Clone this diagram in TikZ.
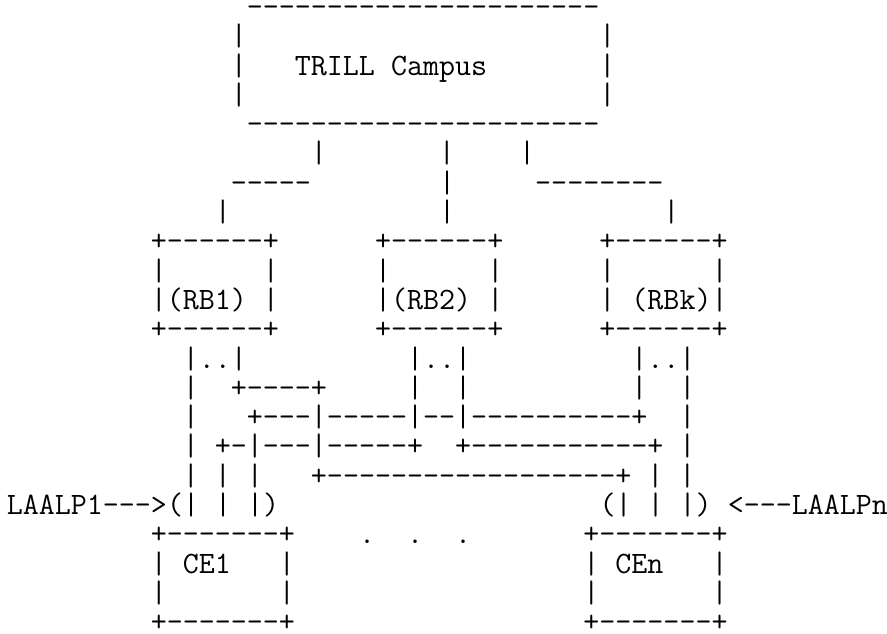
\documentclass[tikz,border=0pt]{standalone}
\usepackage{tikz}
\tikzset{asciirow/.style={anchor=base west, inner sep=0pt, outer sep=0pt, font=\ttfamily\fontsize{31.11pt}{29.3pt}\selectfont}}

\begin{document}
\begin{tikzpicture}
    \useasboundingbox (0,0) rectangle (887pt,-633pt);
    % one row of the plain text figure per node, column width 16pt, row pitch 29.3pt
    \foreach \n/\c/\txt in {
        1/15/{----------------------},
        2/14/{|~~~~~~~~~~~~~~~~~~~~~~|},
        3/14/{|~~~TRILL~Campus~~~~~~~|},
        4/14/{|~~~~~~~~~~~~~~~~~~~~~~|},
        5/15/{----------------------},
        6/19/{|~~~~~~~|~~~~|},
        7/14/{-----~~~~~~~~|~~~~~--------},
        8/13/{|~~~~~~~~~~~~~|~~~~~~~~~~~~~|},
        9/9/{+------+~~~~~~+------+~~~~~~+------+},
        10/9/{|~~~~~~|~~~~~~|~~~~~~|~~~~~~|~~~~~~|},
        11/9/{|(RB1)~|~~~~~~|(RB2)~|~~~~~~|~(RBk)|},
        12/9/{+------+~~~~~~+------+~~~~~~+------+},
        13/11/{|..|~~~~~~~~~~|..|~~~~~~~~~~|..|},
        14/11/{|~~+----+~~~~~|~~|~~~~~~~~~~|~~|},
        15/11/{|~~~+---|-----|--|----------+~~|},
        16/11/{|~+-|---|-----+~~+-----------+~|},
        17/11/{|~|~|~~~+------------------+~|~|},
        18/0/{LAALP1--->(|~|~|)~~~~~~~~~~~~~~~~~~~~(|~|~|)~<---LAALPn},
        19/9/{+-------+~~~~.~~.~~.~~~~~~~+-------+},
        20/9/{|~CE1~~~|~~~~~~~~~~~~~~~~~~|~CEn~~~|},
        21/9/{|~~~~~~~|~~~~~~~~~~~~~~~~~~|~~~~~~~|},
        22/9/{+-------+~~~~~~~~~~~~~~~~~~+-------+}}
        \node[asciirow] (row\n) at ({6.8pt+16pt*\c}, {-16.4pt-29.3pt*(\n-1)}) {\txt};
\end{tikzpicture}
\end{document}
